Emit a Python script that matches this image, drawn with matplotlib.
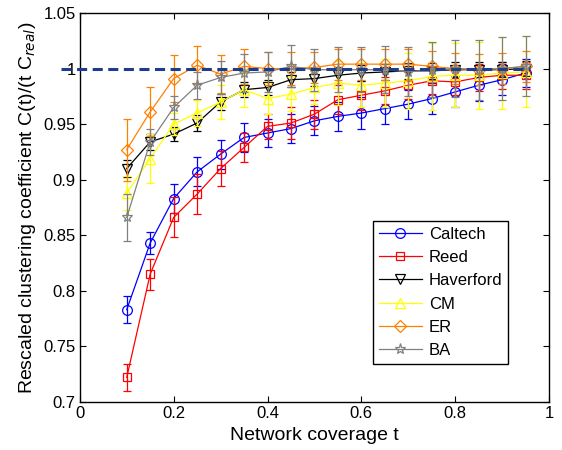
import matplotlib
matplotlib.use('Agg')
import matplotlib.pyplot as plt

plt.rcParams['font.family'] = ['Liberation Sans', 'DejaVu Sans']

t = [0.1, 0.15, 0.2, 0.25, 0.3, 0.35, 0.4, 0.45, 0.5,
     0.55, 0.6, 0.65, 0.7, 0.75, 0.8, 0.85, 0.9, 0.95]

caltech = [0.783, 0.843, 0.883, 0.907, 0.923, 0.938, 0.942, 0.946, 0.953,
           0.957, 0.960, 0.964, 0.968, 0.973, 0.979, 0.985, 0.990, 0.996]
caltech_err = [0.012, 0.010, 0.013, 0.013, 0.013, 0.013, 0.013, 0.013, 0.013,
               0.013, 0.014, 0.014, 0.013, 0.014, 0.014, 0.014, 0.014, 0.013]

reed = [0.722, 0.815, 0.866, 0.887, 0.910, 0.929, 0.948, 0.951, 0.959,
        0.972, 0.976, 0.980, 0.985, 0.989, 0.988, 0.992, 0.994, 0.994]
reed_err = [0.012, 0.014, 0.018, 0.018, 0.016, 0.013, 0.011, 0.014, 0.013,
            0.013, 0.013, 0.012, 0.012, 0.012, 0.012, 0.012, 0.012, 0.012]

haverford = [0.910, 0.934, 0.941, 0.951, 0.970, 0.981, 0.983, 0.990, 0.991,
             0.994, 0.996, 0.997, 0.998, 0.998, 0.999, 0.999, 0.999, 1.000]
haverford_err = [0.008, 0.007, 0.006, 0.007, 0.007, 0.007, 0.007, 0.007, 0.007,
                 0.007, 0.007, 0.007, 0.007, 0.007, 0.007, 0.007, 0.007, 0.007]

cm = [0.888, 0.919, 0.950, 0.960, 0.970, 0.981, 0.973, 0.977, 0.983,
      0.987, 0.985, 0.987, 0.989, 0.993, 0.994, 0.994, 0.996, 0.997]
cm_err = [0.015, 0.022, 0.010, 0.012, 0.015, 0.016, 0.014, 0.015, 0.015,
          0.020, 0.020, 0.022, 0.025, 0.030, 0.029, 0.030, 0.032, 0.032]

er = [0.927, 0.961, 0.991, 1.003, 0.995, 1.002, 1.000, 1.000, 1.001,
      1.004, 1.004, 1.004, 1.004, 1.002, 1.000, 0.999, 1.000, 1.002]
er_err = [0.028, 0.022, 0.021, 0.017, 0.017, 0.016, 0.015, 0.015, 0.014,
          0.014, 0.014, 0.014, 0.014, 0.014, 0.014, 0.014, 0.014, 0.014]

ba = [0.866, 0.934, 0.965, 0.985, 0.992, 0.996, 0.997, 1.002, 0.999,
      0.999, 0.999, 0.999, 0.997, 0.999, 1.000, 0.999, 1.000, 1.002]
ba_err = [0.021, 0.012, 0.010, 0.012, 0.015, 0.017, 0.018, 0.019, 0.019,
          0.020, 0.020, 0.021, 0.022, 0.025, 0.026, 0.027, 0.028, 0.027]

series = [
    ('Caltech', caltech, caltech_err, 'blue', 'o', 7),
    ('Reed', reed, reed_err, 'red', 's', 6),
    ('Haverford', haverford, haverford_err, 'black', 'v', 7),
    ('CM', cm, cm_err, '#ffff00', '^', 7),
    ('ER', er, er_err, '#ff8000', 'D', 6),
    ('BA', ba, ba_err, 'gray', '*', 8),
]

fig = plt.figure(figsize=(5.62, 4.5), dpi=100)
ax = fig.add_axes([0.142, 0.107, 0.835, 0.864])

# error bars first, then the lines with markers (these go in the legend)
for name, y, e, c, m, ms in series:
    ax.errorbar(t, y, yerr=e, fmt='none', ecolor=c, elinewidth=0.9, capsize=3,
                capthick=0.9)
    ax.plot(t, y, color=c, marker=m, mfc='none', mec=c, ms=ms, mew=0.9,
            lw=0.9, label=name)

# reference line at 1, sticks out a little past the left axis like the original
ax.plot([-0.04, 0.96], [1, 1], '--', color='#1c3c8c', lw=2.2, dashes=(3.3, 1.8),
        zorder=10, clip_on=False)

ax.set_xlim(0, 1)
ax.set_ylim(0.7, 1.05)
ax.set_xticks([0, 0.2, 0.4, 0.6, 0.8, 1])
ax.set_xticklabels(['0', '0.2', '0.4', '0.6', '0.8', '1'])
ax.set_yticks([0.7, 0.75, 0.8, 0.85, 0.9, 0.95, 1, 1.05])
ax.set_yticklabels(['0.7', '0.75', '0.8', '0.85', '0.9', '0.95', '1', '1.05'])
ax.tick_params(direction='in', top=True, right=True, labelsize=12, length=4, pad=3)
for s in ax.spines.values():
    s.set_linewidth(1.0)

ax.set_xlabel('Network coverage t', fontsize=14, labelpad=4)
ax.set_ylabel('Rescaled clustering coefficient C(t)/(t C$_{real}$)', fontsize=14, labelpad=4)

leg = ax.legend(loc='lower right', bbox_to_anchor=(0.913, 0.097), fontsize=12,
                frameon=True, fancybox=False, edgecolor='black', framealpha=1,
                labelspacing=0.5, handlelength=2.6, borderpad=0.35,
                handletextpad=0.4, borderaxespad=0)
leg.get_frame().set_linewidth(1.0)

fig.savefig('out.png', dpi=100)
